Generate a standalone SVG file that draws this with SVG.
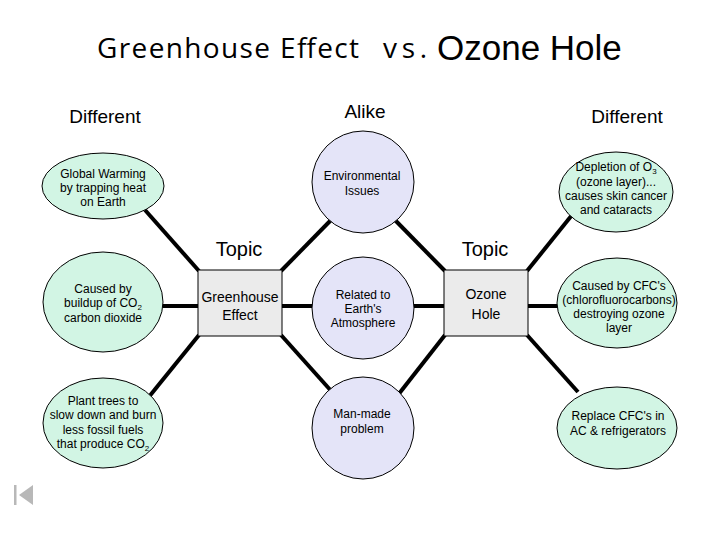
<svg xmlns="http://www.w3.org/2000/svg" width="720" height="540" viewBox="0 0 720 540">
<style>
.t{font-family:"Liberation Sans",Arial,sans-serif;fill:#000;text-anchor:middle}
.n{font-size:12px}
.g{fill:#d2f5e4;stroke:#000;stroke-width:1}
.p{fill:#e4e4f8;stroke:#000;stroke-width:1}
.b{fill:#ebebeb;stroke:#000;stroke-width:1}
.c line{stroke:#000;stroke-width:4;stroke-linecap:butt}
</style>
<rect width="720" height="540" fill="#fff"/>
<g id="title">
<text x="97" y="58" font-family="'Open Sans',sans-serif" font-size="28" textLength="262" lengthAdjust="spacing">Greenhouse Effect</text>
<text x="383" y="58" font-family="'Open Sans',sans-serif" font-size="28" textLength="44" lengthAdjust="spacing">vs.</text>
<text x="437" y="60" font-family="'Liberation Sans',Arial,sans-serif" font-size="35">Ozone Hole</text>
</g>
<g id="headers">
<text class="t" x="105" y="123" font-size="19">Different</text>
<text class="t" x="365" y="118" font-size="19">Alike</text>
<text class="t" x="627" y="123" font-size="19">Different</text>
<text class="t" x="239" y="256" font-size="20">Topic</text>
<text class="t" x="485" y="256" font-size="20">Topic</text>
</g>
<g id="connectors" class="c">
<line x1="145" y1="210" x2="199" y2="271"/>
<line x1="160" y1="306" x2="199" y2="306"/>
<line x1="199" y1="335" x2="148" y2="398"/>
<line x1="281" y1="271" x2="333" y2="218"/>
<line x1="281" y1="306" x2="314" y2="306"/>
<line x1="281" y1="335" x2="333" y2="393"/>
<line x1="393" y1="218" x2="445" y2="271"/>
<line x1="412" y1="306" x2="445" y2="306"/>
<line x1="398" y1="395" x2="445" y2="335"/>
<line x1="527" y1="271" x2="572" y2="215"/>
<line x1="527" y1="306" x2="558" y2="306"/>
<line x1="527" y1="335" x2="578" y2="392"/>
</g>
<g id="global-warming">
<ellipse class="g" cx="103" cy="186" rx="61" ry="33"/>
<text class="t n" x="103" y="178">Global Warming</text>
<text class="t n" x="103" y="192">by trapping heat</text>
<text class="t n" x="103" y="206">on Earth</text>
</g>
<g id="caused-co2">
<ellipse class="g" cx="103" cy="302" rx="60" ry="50"/>
<text class="t n" x="103" y="293">Caused by</text>
<text class="t n" x="103" y="307">buildup of CO<tspan font-size="8" dy="3">2</tspan></text>
<text class="t n" x="103" y="322">carbon dioxide</text>
</g>
<g id="plant-trees">
<ellipse class="g" cx="103" cy="423" rx="60" ry="45"/>
<text class="t n" x="103" y="405">Plant trees to</text>
<text class="t n" x="103" y="419">slow down and burn</text>
<text class="t n" x="103" y="434">less fossil fuels</text>
<text class="t n" x="103" y="448">that produce CO<tspan font-size="8" dy="3">2</tspan></text>
</g>
<g id="greenhouse">
<rect class="b" x="198" y="270" width="84" height="66"/>
<text class="t" x="240" y="302" font-size="14">Greenhouse</text>
<text class="t" x="240" y="320" font-size="14">Effect</text>
</g>
<g id="environmental">
<circle class="p" cx="363" cy="182" r="51"/>
<text class="t n" x="362" y="180">Environmental</text>
<text class="t n" x="362" y="195">Issues</text>
</g>
<g id="atmosphere">
<circle class="p" cx="363" cy="308" r="51"/>
<text class="t n" x="363" y="299">Related to</text>
<text class="t n" x="363" y="313">Earth's</text>
<text class="t n" x="363" y="327">Atmosphere</text>
</g>
<g id="man-made">
<circle class="p" cx="363" cy="428" r="51"/>
<text class="t n" x="362" y="418">Man-made</text>
<text class="t n" x="362" y="433">problem</text>
</g>
<g id="ozone">
<rect class="b" x="444" y="270" width="84" height="66"/>
<text class="t" x="486" y="299" font-size="14">Ozone</text>
<text class="t" x="486" y="319" font-size="14">Hole</text>
</g>
<g id="depletion">
<ellipse class="g" cx="616" cy="192" rx="57" ry="40"/>
<text class="t n" x="616" y="171">Depletion of O<tspan font-size="8" dy="3">3</tspan></text>
<text class="t n" x="616" y="186">(ozone layer)...</text>
<text class="t n" x="616" y="200">causes skin cancer</text>
<text class="t n" x="616" y="214">and cataracts</text>
</g>
<g id="cfc">
<ellipse class="g" cx="617" cy="303" rx="60" ry="45"/>
<text class="t n" x="619" y="290">Caused by CFC's</text>
<text class="t n" x="619" y="304">(chlorofluorocarbons)</text>
<text class="t n" x="619" y="318">destroying ozone</text>
<text class="t n" x="619" y="332">layer</text>
</g>
<g id="replace">
<ellipse class="g" cx="617" cy="428" rx="60" ry="41"/>
<text class="t n" x="618" y="420">Replace CFC's in</text>
<text class="t n" x="618" y="435">AC &amp; refrigerators</text>
</g>
<g id="nav">
<rect x="14" y="485" width="2.5" height="20" fill="#b8b8b8"/>
<polygon points="19,495 33,485 33,505" fill="#b8b8b8"/>
</g>
</svg>
